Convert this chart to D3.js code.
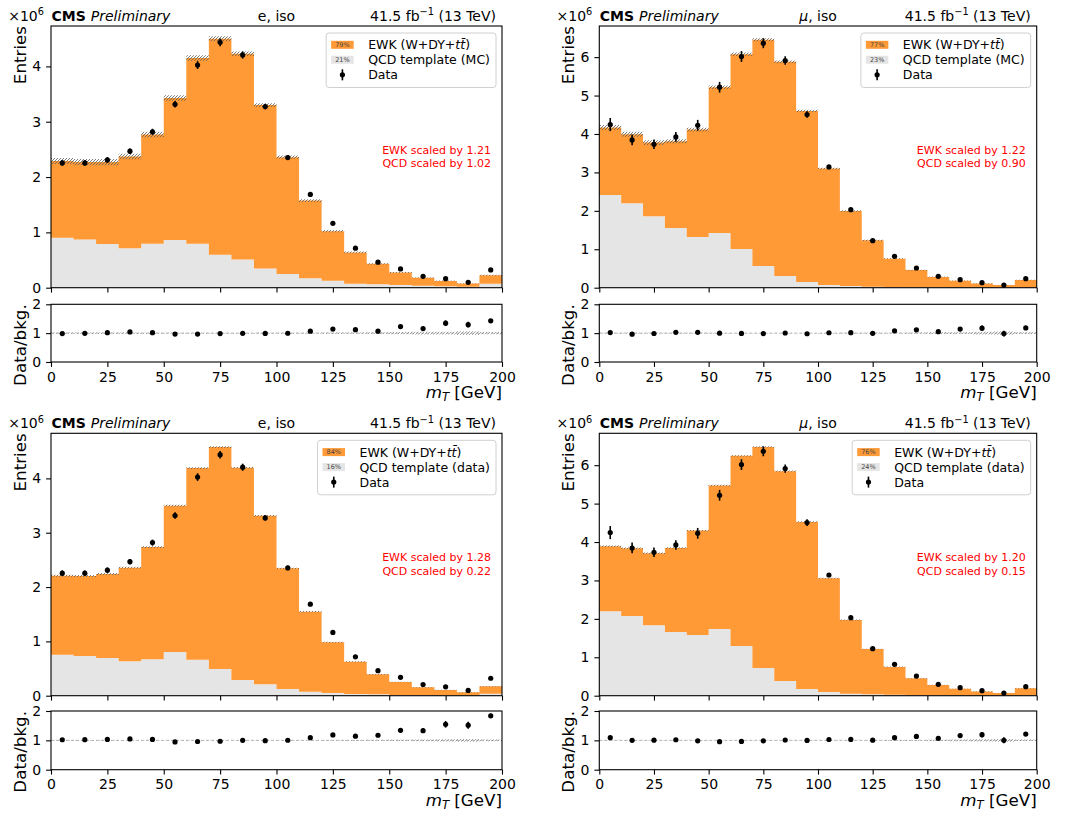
<!DOCTYPE html>
<html>
<head>
<meta charset="utf-8">
<script src="https://cdn.jsdelivr.net/npm/d3@7"></script>
<style>
  body { margin: 0; background: #fff; }
  svg { display: block; font-family: "DejaVu Sans", sans-serif; }
</style>
</head>
<body>
<svg id="fig" width="1069" height="816"></svg>
<script>
// ---- binning and axis ticks (m_T in GeV) ----
const binEdges = [0, 10, 20, 30, 40, 50, 60, 70, 80, 90, 100, 110, 120, 130, 140, 150, 160, 170, 180, 190, 200];
const xTicks = [0, 25, 50, 75, 100, 125, 150, 175, 200];
const ratioTicks = [0, 1, 2];

// ---- observed data (entries, x10^6) ----
const dataE   = [2.255, 2.255, 2.31, 2.467, 2.818, 3.315, 4.024, 4.436, 4.206, 3.273, 2.352, 1.685, 1.164, 0.715, 0.461, 0.339, 0.206, 0.164, 0.097, 0.321];
const errE    = [0.05, 0.05, 0.05, 0.05, 0.055, 0.06, 0.07, 0.07, 0.065, 0.05, 0.04, 0.03, 0.02, 0.015, 0.012, 0.016, 0.011, 0.012, 0.0075, 0.013];
const dataMu  = [4.245, 3.845, 3.733, 3.924, 4.227, 5.217, 6.016, 6.363, 5.911, 4.505, 3.142, 2.031, 1.224, 0.816, 0.512, 0.295, 0.208, 0.130, 0.068, 0.234];
const errMu   = [0.17, 0.14, 0.125, 0.125, 0.14, 0.14, 0.14, 0.13, 0.11, 0.085, 0.05, 0.04, 0.025, 0.02, 0.015, 0.01, 0.01, 0.01, 0.007, 0.01];

// ---- electron channel, QCD template from MC ----
const qcdEmc  = [0.903, 0.873, 0.788, 0.715, 0.794, 0.861, 0.794, 0.594, 0.509, 0.345, 0.248, 0.170, 0.127, 0.073, 0.061, 0.048, 0.036, 0.024, 0.018, 0.073];
const ewkEmc  = [1.387, 1.397, 1.482, 1.655, 1.976, 2.569, 3.356, 3.906, 3.721, 2.955, 2.112, 1.405, 0.894, 0.565, 0.370, 0.228, 0.142, 0.098, 0.057, 0.152];
const uncEmc  = [0.055, 0.055, 0.055, 0.05, 0.05, 0.05, 0.05, 0.045, 0.04, 0.035, 0.03, 0.025, 0.02, 0.015, 0.012, 0.01, 0.008, 0.006, 0.005, 0.008];

// ---- muon channel, QCD template from MC ----
const qcdMumc = [2.413, 2.196, 1.858, 1.554, 1.319, 1.424, 1.007, 0.564, 0.304, 0.148, 0.069, 0.043, 0.026, 0.017, 0.012, 0.009, 0.007, 0.005, 0.004, 0.008];
const ewkMumc = [1.754, 1.797, 1.918, 2.257, 2.796, 3.793, 5.069, 5.886, 5.573, 4.452, 3.030, 1.954, 1.207, 0.739, 0.447, 0.272, 0.175, 0.106, 0.065, 0.190];
const uncMumc = [0.065, 0.065, 0.06, 0.055, 0.05, 0.045, 0.045, 0.04, 0.035, 0.03, 0.025, 0.02, 0.015, 0.012, 0.01, 0.008, 0.006, 0.005, 0.004, 0.006];

// ---- electron channel, QCD template from data ----
const qcdEdat = [0.755, 0.730, 0.693, 0.632, 0.669, 0.804, 0.663, 0.491, 0.288, 0.209, 0.123, 0.074, 0.049, 0.031, 0.025, 0.015, 0.012, 0.010, 0.008, 0.035];
const ewkEdat = [1.454, 1.472, 1.546, 1.724, 2.067, 2.693, 3.527, 4.086, 3.908, 3.104, 2.221, 1.472, 0.933, 0.595, 0.368, 0.238, 0.143, 0.096, 0.056, 0.140];
const uncEdat = [0.018, 0.018, 0.018, 0.016, 0.016, 0.016, 0.016, 0.016, 0.015, 0.014, 0.013, 0.011, 0.009, 0.008, 0.007, 0.006, 0.005, 0.004, 0.003, 0.005];

// ---- muon channel, QCD template from data ----
const qcdMudat = [2.197, 2.075, 1.832, 1.658, 1.580, 1.737, 1.294, 0.721, 0.382, 0.174, 0.096, 0.052, 0.035, 0.022, 0.015, 0.010, 0.008, 0.006, 0.005, 0.010];
const ewkMudat = [1.693, 1.763, 1.876, 2.188, 2.718, 3.733, 4.949, 5.755, 5.462, 4.350, 2.960, 1.919, 1.181, 0.727, 0.437, 0.266, 0.171, 0.103, 0.063, 0.183];
const uncMudat = [0.02, 0.02, 0.02, 0.018, 0.018, 0.018, 0.018, 0.018, 0.016, 0.015, 0.013, 0.011, 0.009, 0.008, 0.007, 0.006, 0.005, 0.004, 0.003, 0.005];

// ---- per-panel labels ----
const channelLabels = [["e", false], ["μ", true], ["e", false], ["μ", true]];
const templateLabels = ["QCD template (MC)", "QCD template (MC)", "QCD template (data)", "QCD template (data)"];
const ewkShares = ["79%", "77%", "84%", "76%"];
const qcdShares = ["21%", "23%", "16%", "24%"];
const ewkScales = ["1.21", "1.22", "1.28", "1.20"];
const qcdScales = ["1.02", "0.90", "0.22", "0.15"];
const yTickSets = [[0, 1, 2, 3, 4], [0, 1, 2, 3, 4, 5, 6], [0, 1, 2, 3, 4], [0, 1, 2, 3, 4, 5, 6]];
const yMaxes = [4.73, 6.81, 4.83, 6.83];

const COLOR_EWK = "#ff9a36";
const COLOR_QCD = "#e5e5e5";

// ---- figure layout ----
const columns = [{ L: 51, R: 502 }, { L: 599.3, R: 1036.7 }];
const rowsLayout = [
  { mainTop: 26, mainBottom: 287.7, ratioTop: 304.3, ratioBottom: 362 },
  { mainTop: 433.3, mainBottom: 695.7, ratioTop: 711, ratioBottom: 769.7 }
];

const panels = [
  { col: 0, row: 0, data: dataE,  err: errE,  qcd: qcdEmc,   ewk: ewkEmc,   unc: uncEmc },
  { col: 1, row: 0, data: dataMu, err: errMu, qcd: qcdMumc,  ewk: ewkMumc,  unc: uncMumc },
  { col: 0, row: 1, data: dataE,  err: errE,  qcd: qcdEdat,  ewk: ewkEdat,  unc: uncEdat },
  { col: 1, row: 1, data: dataMu, err: errMu, qcd: qcdMudat, ewk: ewkMudat, unc: uncMudat }
];

const svg = d3.select("#fig");
const defs = svg.append("defs");
function addHatch(id, color) {
  const h = defs.append("pattern")
    .attr("id", id).attr("patternUnits", "userSpaceOnUse")
    .attr("width", 3).attr("height", 3);
  h.append("path")
    .attr("d", "M-0.75,0.75 L0.75,-0.75 M0,3 L3,0 M2.25,3.75 L3.75,2.25")
    .attr("stroke", color).attr("stroke-width", 0.8).attr("fill", "none");
}
addHatch("hatch", "#5a5a5a");
addHatch("hatchRatio", "#8a8a8a");

const TICK = 4.9, PAD = 4.9;

function styleAxis(g, fontSize) {
  g.select(".domain").remove();
  g.selectAll(".tick line").attr("stroke", "#000").attr("stroke-width", 1.1);
  g.selectAll(".tick text").attr("fill", "#000").attr("font-size", fontSize)
    .attr("font-family", "DejaVu Sans");
}

panels.forEach((p, k) => {
  const { L, R } = columns[p.col];
  const lay = rowsLayout[p.row];
  const g = svg.append("g");

  const x = d3.scaleLinear().domain([0, 200]).range([L, R]);
  const y = d3.scaleLinear().domain([0, yMaxes[k]]).range([lay.mainBottom, lay.mainTop]);
  const yr = d3.scaleLinear().domain([0, 2]).range([lay.ratioBottom, lay.ratioTop]);

  const bins = binEdges.slice(0, -1).map((lo, i) => ({
    lo, hi: binEdges[i + 1], qcd: p.qcd[i], ewk: p.ewk[i],
    data: p.data[i], err: p.err[i], unc: p.unc[i]
  }));
  bins.forEach(b => { b.total = b.qcd + b.ewk; });

  // stacked step histogram
  const stacked = d3.stack().keys(["qcd", "ewk"])(bins);
  const stepArea = d3.area().curve(d3.curveStepAfter)
    .x(d => x(d.x)).y0(d => y(d.y0)).y1(d => y(d.y1));
  const toSteps = layer => {
    const pts = layer.map((s, i) => ({ x: bins[i].lo, y0: s[0], y1: s[1] }));
    const last = layer[layer.length - 1];
    pts.push({ x: 200, y0: last[0], y1: last[1] });
    return pts;
  };
  const fills = [COLOR_QCD, COLOR_EWK];
  stacked.forEach((layer, li) => {
    g.append("path").attr("d", stepArea(toSteps(layer)))
      .attr("fill", fills[li]).attr("stroke", "none");
  });

  // background uncertainty band on the stack
  const bandPts = bins.map(b => ({ x: b.lo, y0: b.total - b.unc, y1: b.total + b.unc }));
  bandPts.push({ x: 200, y0: bandPts[bandPts.length - 1].y0, y1: bandPts[bandPts.length - 1].y1 });
  g.append("path").attr("d", stepArea(bandPts)).attr("fill", "url(#hatch)");

  // data points with error bars
  const cx = b => x((b.lo + b.hi) / 2);
  g.selectAll(".eb").data(bins).join("line")
    .attr("x1", cx).attr("x2", cx)
    .attr("y1", b => y(b.data - b.err)).attr("y2", b => y(b.data + b.err))
    .attr("stroke", "#000").attr("stroke-width", 1.6);
  g.selectAll(".pt").data(bins).join("circle")
    .attr("cx", cx).attr("cy", b => y(b.data)).attr("r", 2.6).attr("fill", "#000");

  // ratio panel
  const rBand = bins.map(b => ({ x: b.lo, y0: 1 - b.unc / b.total, y1: 1 + b.unc / b.total }));
  rBand.push({ x: 200, y0: rBand[rBand.length - 1].y0, y1: rBand[rBand.length - 1].y1 });
  const rArea = d3.area().curve(d3.curveStepAfter)
    .x(d => x(d.x)).y0(d => yr(d.y0)).y1(d => yr(d.y1));
  g.append("line").attr("x1", L).attr("x2", R).attr("y1", yr(1)).attr("y2", yr(1))
    .attr("stroke", "#b5b5b5").attr("stroke-width", 1).attr("stroke-dasharray", "3,2");
  g.append("path").attr("d", rArea(rBand)).attr("fill", "url(#hatchRatio)");
  g.selectAll(".reb").data(bins).join("line")
    .attr("x1", cx).attr("x2", cx)
    .attr("y1", b => yr((b.data - b.err) / b.total)).attr("y2", b => yr((b.data + b.err) / b.total))
    .attr("stroke", "#000").attr("stroke-width", 1.6);
  g.selectAll(".rpt").data(bins).join("circle")
    .attr("cx", cx).attr("cy", b => yr(b.data / b.total)).attr("r", 2.6).attr("fill", "#000");

  // axes
  const axMainX = g.append("g").attr("transform", `translate(0,${lay.mainBottom})`)
    .call(d3.axisBottom(x).tickValues(xTicks).tickSize(TICK).tickSizeOuter(0).tickFormat(""));
  styleAxis(axMainX, 14);
  const axMainY = g.append("g").attr("transform", `translate(${L},0)`)
    .call(d3.axisLeft(y).tickValues(yTickSets[k]).tickSize(TICK).tickPadding(PAD).tickSizeOuter(0).tickFormat(d3.format("d")));
  styleAxis(axMainY, 14);
  const axRX = g.append("g").attr("transform", `translate(0,${lay.ratioBottom})`)
    .call(d3.axisBottom(x).tickValues(xTicks).tickSize(TICK).tickPadding(PAD).tickSizeOuter(0).tickFormat(d3.format("d")));
  styleAxis(axRX, 14);
  const axRY = g.append("g").attr("transform", `translate(${L},0)`)
    .call(d3.axisLeft(yr).tickValues(ratioTicks).tickSize(TICK).tickPadding(PAD).tickSizeOuter(0).tickFormat(d3.format("d")));
  styleAxis(axRY, 14);

  // spines
  [[lay.mainTop, lay.mainBottom], [lay.ratioTop, lay.ratioBottom]].forEach(([t, b]) => {
    g.append("rect").attr("x", L).attr("y", t).attr("width", R - L).attr("height", b - t)
      .attr("fill", "none").attr("stroke", "#000").attr("stroke-width", 1.1);
  });

  // axis labels
  g.append("text").attr("transform", `translate(${L - 25},${lay.mainTop}) rotate(-90)`)
    .attr("text-anchor", "end").attr("font-size", 16.7).text("Entries");
  g.append("text").attr("transform", `translate(${L - 25},${lay.ratioTop}) rotate(-90)`)
    .attr("text-anchor", "end").attr("font-size", 16.7).text("Data/bkg.");
  const xl = g.append("text").attr("x", R).attr("y", lay.ratioBottom + 36)
    .attr("text-anchor", "end").attr("font-size", 16.7);
  xl.append("tspan").attr("font-style", "italic").text("m");
  xl.append("tspan").attr("font-style", "italic").attr("font-size", 11.7).attr("dy", 3).text("T");
  xl.append("tspan").attr("dy", -3).text(" [GeV]");

  // header line
  const hb = lay.mainTop - 5.3;
  const off = g.append("text").attr("x", L - 7).attr("y", hb).attr("text-anchor", "end").attr("font-size", 14);
  off.append("tspan").text("×10");
  off.append("tspan").attr("font-size", 9.8).attr("dy", -5.5).text("6");
  const cms = g.append("text").attr("x", L + 0.5).attr("y", hb).attr("font-size", 14);
  cms.append("tspan").attr("font-weight", "bold").text("CMS");
  cms.append("tspan").attr("font-style", "italic").attr("dx", 5).text("Preliminary");
  const ch = g.append("text").attr("x", (L + R) / 2).attr("y", hb).attr("text-anchor", "middle").attr("font-size", 14);
  ch.append("tspan").attr("font-style", channelLabels[k][1] ? "italic" : "normal").text(channelLabels[k][0]);
  ch.append("tspan").text(", iso");
  const lumi = g.append("text").attr("x", R - 6).attr("y", hb).attr("text-anchor", "end").attr("font-size", 14);
  lumi.append("tspan").text("41.5 fb");
  lumi.append("tspan").attr("font-size", 9.8).attr("dy", -5.5).text("−1");
  lumi.append("tspan").attr("dy", 5.5).text(" (13 TeV)");

  // fit scale annotations
  [["EWK scaled by ", ewkScales[k]], ["QCD scaled by ", qcdScales[k]]].forEach(([t, v], j) => {
    g.append("text").attr("x", R - 11).attr("y", lay.mainTop + 128 + 13.3 * j)
      .attr("text-anchor", "end").attr("font-size", 11).attr("fill", "#ff0000").text(t + v);
  });

  // legend
  const lg = g.append("g");
  const box = lg.append("rect").attr("rx", 3).attr("ry", 3)
    .attr("fill", "#fff").attr("fill-opacity", 0.8).attr("stroke", "#d0d0d0").attr("stroke-width", 1);
  const top = lay.mainTop + 7;
  const rowY = j => top + 11.8 + 15 * j;
  const labels = [];
  const t0 = lg.append("text").attr("y", rowY(0) + 4.5).attr("font-size", 12.5);
  t0.append("tspan").text("EWK (W+DY+");
  t0.append("tspan").attr("font-style", "italic").text("tt\u0304");
  t0.append("tspan").text(")");
  labels.push(t0);
  labels.push(lg.append("text").attr("y", rowY(1) + 4.5).attr("font-size", 12.5).text(templateLabels[k]));
  labels.push(lg.append("text").attr("y", rowY(2) + 4.5).attr("font-size", 12.5).text("Data"));
  const maxW = d3.max(labels, t => t.node().getComputedTextLength());
  const bw = 42 + maxW + 6;
  const bx = R - 6 - bw;
  box.attr("x", bx).attr("y", top).attr("width", bw).attr("height", 54.5);
  labels.forEach(t => t.attr("x", bx + 42));
  [[COLOR_EWK, ewkShares[k]], [COLOR_QCD, qcdShares[k]]].forEach(([c, s], j) => {
    lg.append("rect").attr("x", bx + 5).attr("y", rowY(j) - 4).attr("width", 22.5).attr("height", 8).attr("fill", c);
    lg.append("text").attr("x", bx + 16.25).attr("y", rowY(j) + 2.3).attr("text-anchor", "middle")
      .attr("font-size", 6.5).attr("fill", "#444").text(s);
  });
  lg.append("line").attr("x1", bx + 16.25).attr("x2", bx + 16.25).attr("y1", rowY(2) - 5.5).attr("y2", rowY(2) + 5.5)
    .attr("stroke", "#000").attr("stroke-width", 1.6);
  lg.append("circle").attr("cx", bx + 16.25).attr("cy", rowY(2)).attr("r", 2.6).attr("fill", "#000");
});
</script>
</body>
</html>
